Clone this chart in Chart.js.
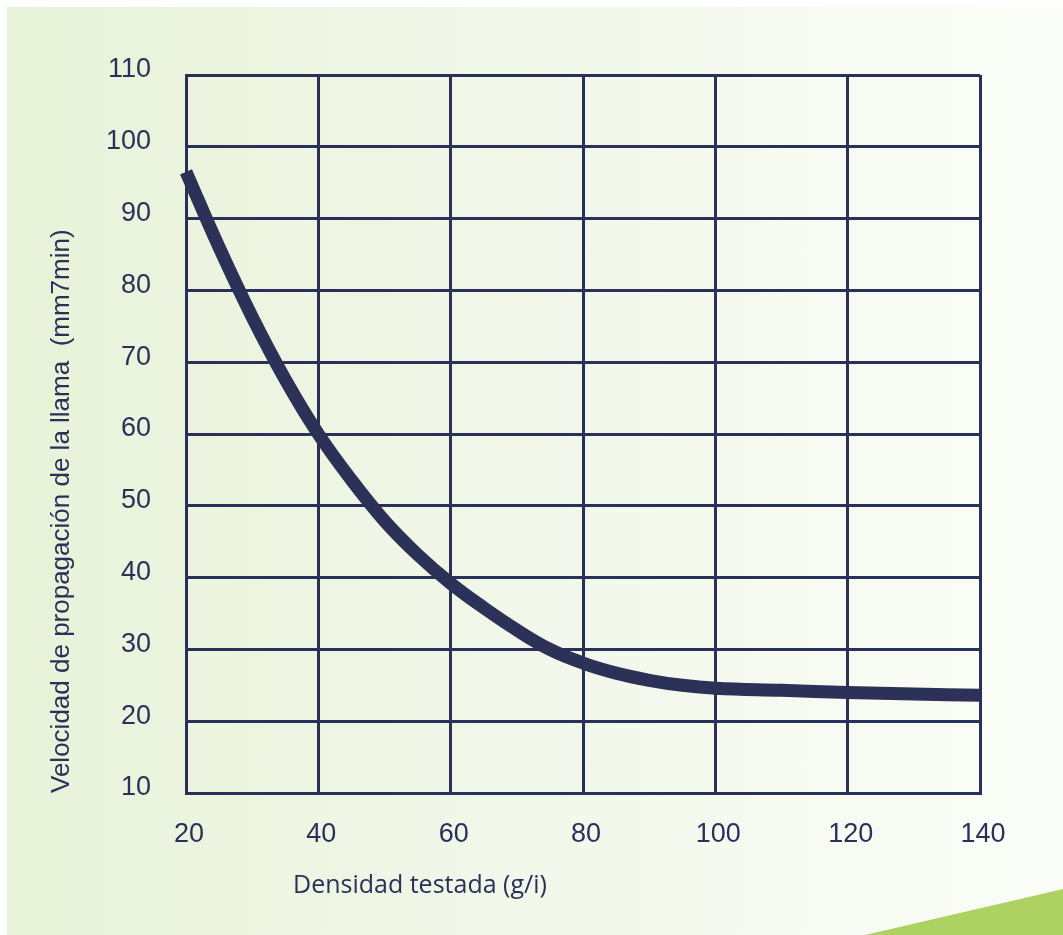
<!DOCTYPE html>
<html>
<head>
<meta charset="utf-8">
<script src="https://cdn.jsdelivr.net/npm/chart.js@4"></script>
<style>
  html, body { margin: 0; padding: 0; background: #ffffff; }
  #wrap { position: relative; width: 1063px; height: 935px; overflow: hidden; }
  #bg { position: absolute; left: 7px; top: 7px; width: 1056px; height: 928px;
        background: linear-gradient(to right, #e8f2d8 0%, #f1f7e9 45%, #fbfdf8 100%); }
  #tri { position: absolute; left: 0; top: 0; width: 1063px; height: 935px; background: #aed262;
         clip-path: polygon(865px 935px, 1063px 889px, 1063px 935px); }
  canvas { position: absolute; left: 0; top: 0; }
</style>
</head>
<body>
<div id="wrap">
  <div id="bg"></div>
  <div id="tri"></div>
  <canvas id="c" width="1063" height="935"></canvas>
</div>
<script>
// Data
const densidad   = [20, 25, 30, 35, 40, 45, 50, 55, 60, 65, 70, 75, 80, 85, 90, 95, 100, 110, 120, 130, 140];
const velocidad  = [96.5, 86, 76.3, 67.6, 60, 53.6, 47.9, 43.2, 39.2, 35.8, 32.7, 30, 28.1, 26.7, 25.7, 25.0, 24.6, 24.3, 24.0, 23.8, 23.6];
const xTickValues = [20, 40, 60, 80, 100, 120, 140];
const yTickValues = [10, 20, 30, 40, 50, 60, 70, 80, 90, 100, 110];
const yTitle = 'Velocidad de propagación de la llama  (mm7min)';
const xTitle = 'Densidad testada (g/i)';

const navy = '#2a3159';

const xTitlePlugin = {
  id: 'xTitlePlugin',
  afterDraw(chart) {
    const ctx = chart.ctx;
    ctx.save();
    ctx.font = '25px "Open Sans"';
    ctx.fillStyle = navy;
    ctx.textAlign = 'left';
    ctx.textBaseline = 'middle';
    ctx.fillText(xTitle, 293, 886);
    ctx.restore();
  }
};

new Chart(document.getElementById('c'), {
  type: 'line',
  data: {
    datasets: [{
      data: densidad.map((x, i) => ({ x: x, y: velocidad[i] })),
      borderColor: '#2b3157',
      borderWidth: 13,
      borderCapStyle: 'butt',
      pointRadius: 0,
      tension: 0.4,
      fill: false,
      clip: false
    }]
  },
  options: {
    responsive: false,
    animation: false,
    devicePixelRatio: 1,
    layout: { padding: { top: 75, right: 83, left: 0, bottom: 0 } },
    plugins: { legend: { display: false }, tooltip: { enabled: false } },
    scales: {
      x: {
        type: 'linear',
        min: 20, max: 140,
        afterBuildTicks: (s) => { s.ticks = xTickValues.map(v => ({ value: v })); },
        afterFit: (s) => { s.height = 142; },
        grid: { color: navy, lineWidth: 3, drawTicks: false },
        border: { color: navy, width: 3 },
        ticks: { color: navy, font: { family: '"Liberation Sans", Arial, sans-serif', size: 27 }, padding: 25, labelOffset: 3, maxRotation: 0 }
      },
      y: {
        type: 'linear',
        min: 10, max: 110,
        afterBuildTicks: (s) => { s.ticks = yTickValues.map(v => ({ value: v })); },
        afterFit: (s) => { s.width = 186; },
        grid: { color: navy, lineWidth: 3, drawTicks: false },
        border: { color: navy, width: 3 },
        ticks: { color: navy, font: { family: '"Liberation Sans", Arial, sans-serif', size: 27 }, padding: 35, labelOffset: -5 },
        title: {
          display: true, text: yTitle, align: 'start', color: navy,
          font: { family: '"Liberation Sans", Arial, sans-serif', size: 26 },
          padding: { top: 46, bottom: 0 }
        }
      }
    }
  },
  plugins: [xTitlePlugin]
});
</script>
</body>
</html>
